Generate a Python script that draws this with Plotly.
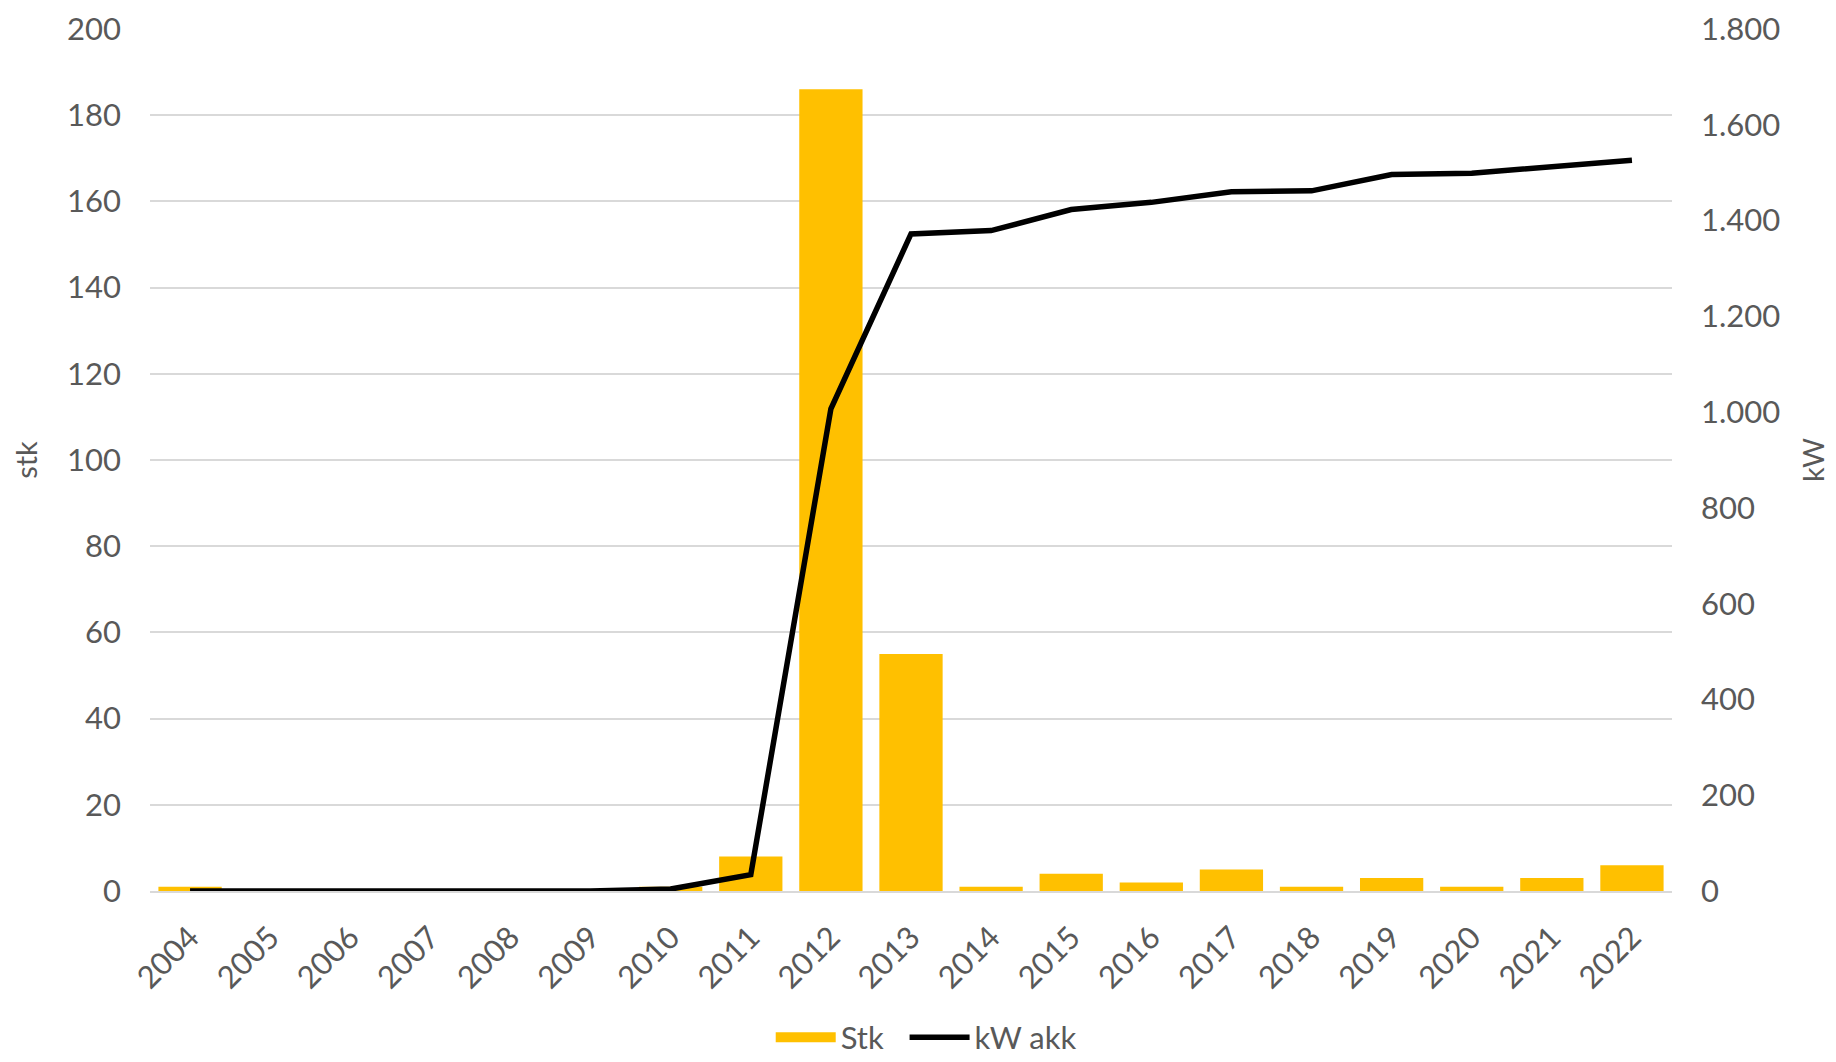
import plotly.graph_objects as go

years = [str(y) for y in range(2004, 2023)]
stk = [1, 0, 0, 0, 0, 0, 1, 8, 186, 55, 1, 4, 2, 5, 1, 3, 1, 3, 6]
kw_akk = [0, 0, 0, 0, 0, 0, 4, 34, 1007, 1372, 1379, 1423, 1438, 1460, 1462, 1496, 1499, 1513, 1526]

FONT = "Lato"
TXT = "#595959"
GRID = "#d9d9d9"
BAR = "#FFC000"

fig = go.Figure()
fig.add_trace(go.Bar(x=years, y=stk, name="Stk", marker_color=BAR,
                     marker_line_width=0, yaxis="y", showlegend=False))
# legend entry drawn as a wide yellow block like the reference
fig.add_trace(go.Scatter(x=[None], y=[None], name="Stk  ", mode="lines",
                         line=dict(color=BAR, width=18), yaxis="y"))
fig.add_trace(go.Scatter(x=years, y=kw_akk, name="kW akk", mode="lines",
                         line=dict(color="#000000", width=5.5), yaxis="y2"))

fig.update_layout(
    width=1836, height=1062,
    margin=dict(l=150, r=164, t=29, b=171, autoexpand=False),
    paper_bgcolor="white", plot_bgcolor="white",
    separators=",.",
    bargap=0.21,
    font=dict(family=FONT, size=31, color=TXT),
    xaxis=dict(tickangle=-45, showgrid=False, showline=True, linecolor=GRID, linewidth=2,
               ticks="", automargin=False, ticklabelstandoff=14,
               tickfont=dict(size=31, color=TXT)),
    yaxis=dict(range=[0, 200], dtick=20, showgrid=True, gridcolor=GRID, gridwidth=2,
               zeroline=False, ticks="", automargin=False, ticklabelstandoff=28,
               title=dict(text="stk", font=dict(size=29, color=TXT), standoff=20),
               tickfont=dict(size=31, color=TXT)),
    yaxis2=dict(range=[0, 1800], dtick=200, overlaying="y", side="right", showgrid=False,
                zeroline=False, ticks="", tickformat=",d", automargin=False,
                ticklabelstandoff=28,
                title=dict(text="kW", font=dict(size=29, color=TXT), standoff=24),
                tickfont=dict(size=31, color=TXT)),
    legend=dict(orientation="h", x=0.51, xanchor="center", y=-0.17, yanchor="middle",
                font=dict(size=31, color=TXT), itemwidth=60, tracegroupgap=0),
    showlegend=True,
)

fig.write_html("out.html")
